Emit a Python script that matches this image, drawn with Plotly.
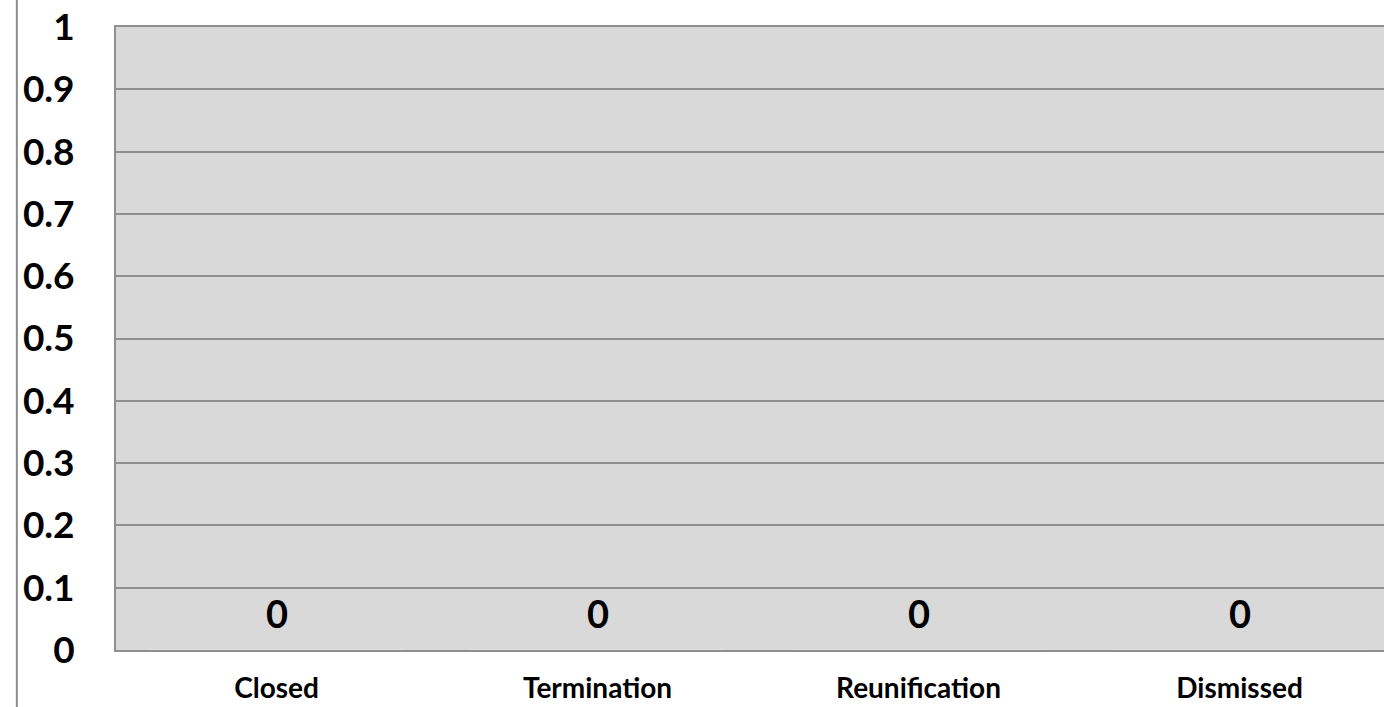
import plotly.graph_objects as go

categories = ["Closed", "Termination", "Reunification", "Dismissed"]
values = [0, 0, 0, 0]
y_ticks = [0, 0.1, 0.2, 0.3, 0.4, 0.5, 0.6, 0.7, 0.8, 0.9, 1]
y_tick_labels = ["0", "0.1", "0.2", "0.3", "0.4", "0.5", "0.6", "0.7", "0.8", "0.9", "1"]

FONT = "Lato"
GRID = "#8F8F8F"

fig = go.Figure()
fig.add_trace(go.Bar(x=categories, y=values, marker_color="#4F81BD", showlegend=False,
                     hoverinfo="skip"))

for c, v in zip(categories, values):
    fig.add_annotation(x=c, y=v, text=f"<b>{v}</b>", showarrow=False, yshift=37,
                       font=dict(family=FONT, size=38, color="black"))

fig.add_shape(type="line", xref="paper", yref="paper", x0=-0.0782, x1=-0.0782, y0=-0.2, y1=1.2,
              line=dict(color="#8C8C8C", width=2))

fig.update_layout(
    width=1384, height=707,
    margin=dict(l=116, r=0, t=27, b=57, autoexpand=False),
    plot_bgcolor="#D9D9D9",
    paper_bgcolor="white",
    showlegend=False,
    xaxis=dict(range=[-0.5, 3.45], showline=True, mirror=True, linecolor=GRID, linewidth=2,
               automargin=False,
               showgrid=False, ticks="outside", ticklen=12, tickcolor="rgba(0,0,0,0)",
               tickfont=dict(family=FONT, size=28, color="black"),
               tickvals=categories, ticktext=[f"<b>{c}</b>" for c in categories]),
    yaxis=dict(range=[0, 1], showline=True, linecolor=GRID, linewidth=2, automargin=False,
               showgrid=True, gridcolor=GRID, gridwidth=2, zeroline=False,
               ticklabeloverflow="allow",
               tickvals=y_ticks, ticktext=[f"<b>{t}</b>" for t in y_tick_labels],
               ticks="outside", ticklen=32, tickcolor="rgba(0,0,0,0)",
               tickfont=dict(family=FONT, size=37, color="black")),
)

fig.write_html("out.html", config={"displayModeBar": False},
               post_script="document.body.style.margin='0';document.body.style.overflow='hidden';")
